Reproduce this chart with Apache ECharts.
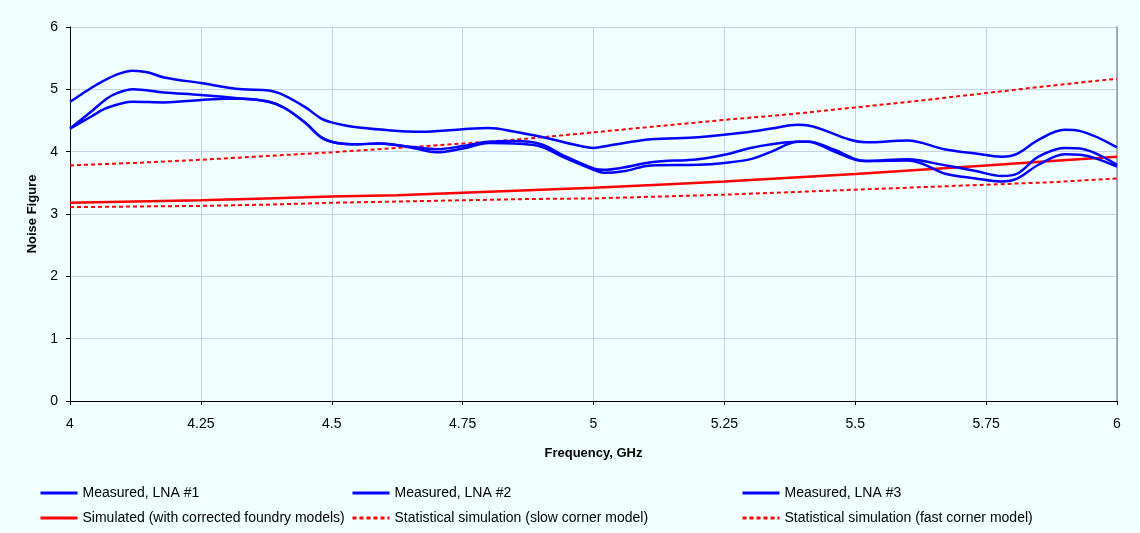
<!DOCTYPE html>
<html>
<head>
<meta charset="utf-8">
<title>Noise Figure vs Frequency</title>
<script src="https://cdn.jsdelivr.net/npm/echarts@6/dist/echarts.min.js"></script>
<style>
  html, body { margin: 0; padding: 0; background: #F0FFFF; }
  #chart { width: 1140px; height: 533px; }
</style>
</head>
<body>
<div id="chart"></div>
<script>
// Frequency (GHz) / noise figure (dB) pairs for each trace
const lna1 = [
  [4.00, 4.80], [4.02, 4.91], [4.05, 5.07], [4.09, 5.24], [4.12, 5.30], [4.15, 5.27],
  [4.18, 5.19], [4.25, 5.10], [4.30, 5.03], [4.33, 5.00], [4.38, 4.98], [4.41, 4.90],
  [4.45, 4.71], [4.48, 4.53], [4.50, 4.47], [4.54, 4.40], [4.60, 4.35], [4.67, 4.32],
  [4.70, 4.33], [4.75, 4.36], [4.80, 4.38], [4.85, 4.32], [4.91, 4.22], [4.96, 4.12],
  [5.00, 4.06], [5.03, 4.10], [5.11, 4.20], [5.20, 4.23], [5.30, 4.32], [5.34, 4.37],
  [5.39, 4.43], [5.41, 4.42], [5.49, 4.19], [5.52, 4.15], [5.60, 4.18], [5.67, 4.04],
  [5.73, 3.97], [5.78, 3.92], [5.81, 3.97], [5.85, 4.19], [5.90, 4.35], [5.93, 4.33],
  [6.00, 4.07]
];
const lna2 = [
  [4.00, 4.37], [4.04, 4.64], [4.07, 4.85], [4.09, 4.94], [4.12, 5.00], [4.18, 4.95],
  [4.25, 4.91], [4.33, 4.85], [4.38, 4.80], [4.41, 4.70], [4.45, 4.46], [4.48, 4.23],
  [4.51, 4.14], [4.55, 4.12], [4.59, 4.13], [4.63, 4.10], [4.66, 4.07], [4.70, 4.04],
  [4.75, 4.09], [4.80, 4.16], [4.85, 4.17], [4.90, 4.12], [4.94, 3.95], [5.00, 3.73],
  [5.02, 3.71], [5.06, 3.75], [5.11, 3.83], [5.20, 3.88], [5.25, 3.95], [5.30, 4.06],
  [5.34, 4.12], [5.39, 4.16], [5.41, 4.16], [5.46, 4.03], [5.50, 3.88], [5.52, 3.85],
  [5.60, 3.88], [5.63, 3.85], [5.66, 3.80], [5.73, 3.69], [5.78, 3.61], [5.81, 3.65],
  [5.85, 3.92], [5.90, 4.06], [5.93, 4.05], [6.00, 3.79]
];
const lna3 = [
  [4.00, 4.37], [4.04, 4.56], [4.07, 4.70], [4.12, 4.80], [4.18, 4.79], [4.25, 4.83],
  [4.30, 4.85], [4.33, 4.85], [4.38, 4.80], [4.41, 4.70], [4.45, 4.46], [4.48, 4.23],
  [4.51, 4.14], [4.55, 4.12], [4.59, 4.13], [4.63, 4.10], [4.66, 4.05], [4.70, 3.99],
  [4.75, 4.05], [4.80, 4.14], [4.85, 4.13], [4.90, 4.08], [4.94, 3.92], [5.00, 3.71],
  [5.02, 3.66], [5.06, 3.69], [5.11, 3.78], [5.20, 3.79], [5.25, 3.82], [5.30, 3.88],
  [5.34, 4.00], [5.39, 4.16], [5.41, 4.16], [5.46, 4.00], [5.50, 3.87], [5.52, 3.85],
  [5.60, 3.86], [5.63, 3.80], [5.67, 3.65], [5.73, 3.57], [5.78, 3.52], [5.81, 3.57],
  [5.85, 3.79], [5.90, 3.96], [5.93, 3.95], [6.00, 3.76]
];
const simulated = [
  [4.000, 3.18], [4.125, 3.20], [4.250, 3.22], [4.375, 3.25], [4.500, 3.28], [4.625, 3.30],
  [4.750, 3.34], [4.875, 3.38], [5.000, 3.42], [5.125, 3.47], [5.250, 3.52], [5.375, 3.58],
  [5.500, 3.64], [5.625, 3.71], [5.750, 3.78], [5.875, 3.85], [6.000, 3.92]
];
const slowCorner = [
  [4.000, 3.78], [4.125, 3.82], [4.250, 3.87], [4.375, 3.93], [4.500, 3.99], [4.625, 4.06],
  [4.750, 4.13], [4.875, 4.21], [5.000, 4.31], [5.125, 4.41], [5.250, 4.51], [5.375, 4.60],
  [5.500, 4.71], [5.625, 4.82], [5.750, 4.94], [5.875, 5.06], [6.000, 5.17]
];
const fastCorner = [
  [4.000, 3.11], [4.125, 3.12], [4.250, 3.13], [4.375, 3.15], [4.500, 3.18], [4.625, 3.20],
  [4.750, 3.22], [4.875, 3.24], [5.000, 3.25], [5.125, 3.28], [5.250, 3.31], [5.375, 3.35],
  [5.500, 3.39], [5.625, 3.43], [5.750, 3.47], [5.875, 3.51], [6.000, 3.57]
];

const seriesNames = [
  'Measured, LNA #1',
  'Measured, LNA #2',
  'Measured, LNA #3',
  'Simulated (with corrected foundry models)',
  'Statistical simulation (slow corner model)',
  'Statistical simulation (fast corner model)'
];
const xAxisTitle = 'Frequency, GHz';
const yAxisTitle = 'Noise Figure';

const FONT = '"Liberation Sans", Arial, sans-serif';
const BLUE = '#0000FF';
const RED = '#FF0000';
const GRID = '#C3D2EA';

function measured(name, data) {
  return {
    name, type: 'line', data, smooth: 0.35, symbol: 'none',
    lineStyle: { color: BLUE, width: 2.5 }, itemStyle: { color: BLUE },
    z: 4
  };
}
function simLine(name, data, dotted) {
  return {
    name, type: 'line', data, symbol: 'none',
    lineStyle: dotted ? { color: RED, width: 2, type: [4, 3] } : { color: RED, width: 2.5 },
    itemStyle: { color: RED },
    z: dotted ? 2 : 3
  };
}

// Legend laid out as a 3x2 grid, one legend component per entry;
// the marker dot is hidden so only the line sample shows
const legendCols = [39, 351, 741];
const legendRows = [486, 511];
const legends = seriesNames.map((name, i) => ({
  data: [name],
  left: legendCols[i % 3],
  top: legendRows[Math.floor(i / 3)],
  padding: 0,
  itemWidth: 37,
  itemHeight: 14,
  selectedMode: false,
  itemStyle: { opacity: 0 },
  lineStyle: { width: 3 },
  textStyle: { fontFamily: FONT, fontSize: 14, color: '#000' }
}));

const chart = echarts.init(document.getElementById('chart'), null, { renderer: 'canvas' });
chart.setOption({
  backgroundColor: '#F0FFFF',
  animation: false,
  legend: legends,
  grid: { left: 70, right: 23, top: 27, bottom: 132, containLabel: false },
  xAxis: {
    type: 'value', min: 4, max: 6, interval: 0.25,
    name: xAxisTitle, nameLocation: 'middle', nameGap: 46,
    nameTextStyle: { fontFamily: FONT, fontSize: 13, fontWeight: 'bold', color: '#000' },
    axisLine: { lineStyle: { color: '#000', width: 1 } },
    axisTick: { show: true, length: 4, lineStyle: { color: '#000' } },
    axisLabel: { fontFamily: FONT, fontSize: 14, color: '#000', margin: 16 },
    splitLine: { show: true, lineStyle: { color: GRID, width: 1 } }
  },
  yAxis: [{
    type: 'value', min: 0, max: 6, interval: 1,
    name: yAxisTitle, nameLocation: 'middle', nameGap: 30, nameRotate: 90,
    nameTextStyle: { fontFamily: FONT, fontSize: 13, fontWeight: 'bold', color: '#000' },
    axisLine: { show: true, lineStyle: { color: '#000', width: 1 } },
    axisTick: { show: true, length: 4, lineStyle: { color: '#000' } },
    axisLabel: { fontFamily: FONT, fontSize: 14, color: '#000', margin: 12 },
    splitLine: { show: true, lineStyle: { color: GRID, width: 1 } }
  }, {
    // right-hand frame edge
    type: 'value', min: 0, max: 6, interval: 1, position: 'right',
    axisLine: { show: true, lineStyle: { color: '#8A96A8', width: 1.5 } },
    axisTick: { show: false }, axisLabel: { show: false }, splitLine: { show: false }
  }],
  series: [
    measured(seriesNames[0], lna1),
    measured(seriesNames[1], lna2),
    measured(seriesNames[2], lna3),
    simLine(seriesNames[3], simulated, false),
    simLine(seriesNames[4], slowCorner, true),
    simLine(seriesNames[5], fastCorner, true)
  ]
});
</script>
</body>
</html>
